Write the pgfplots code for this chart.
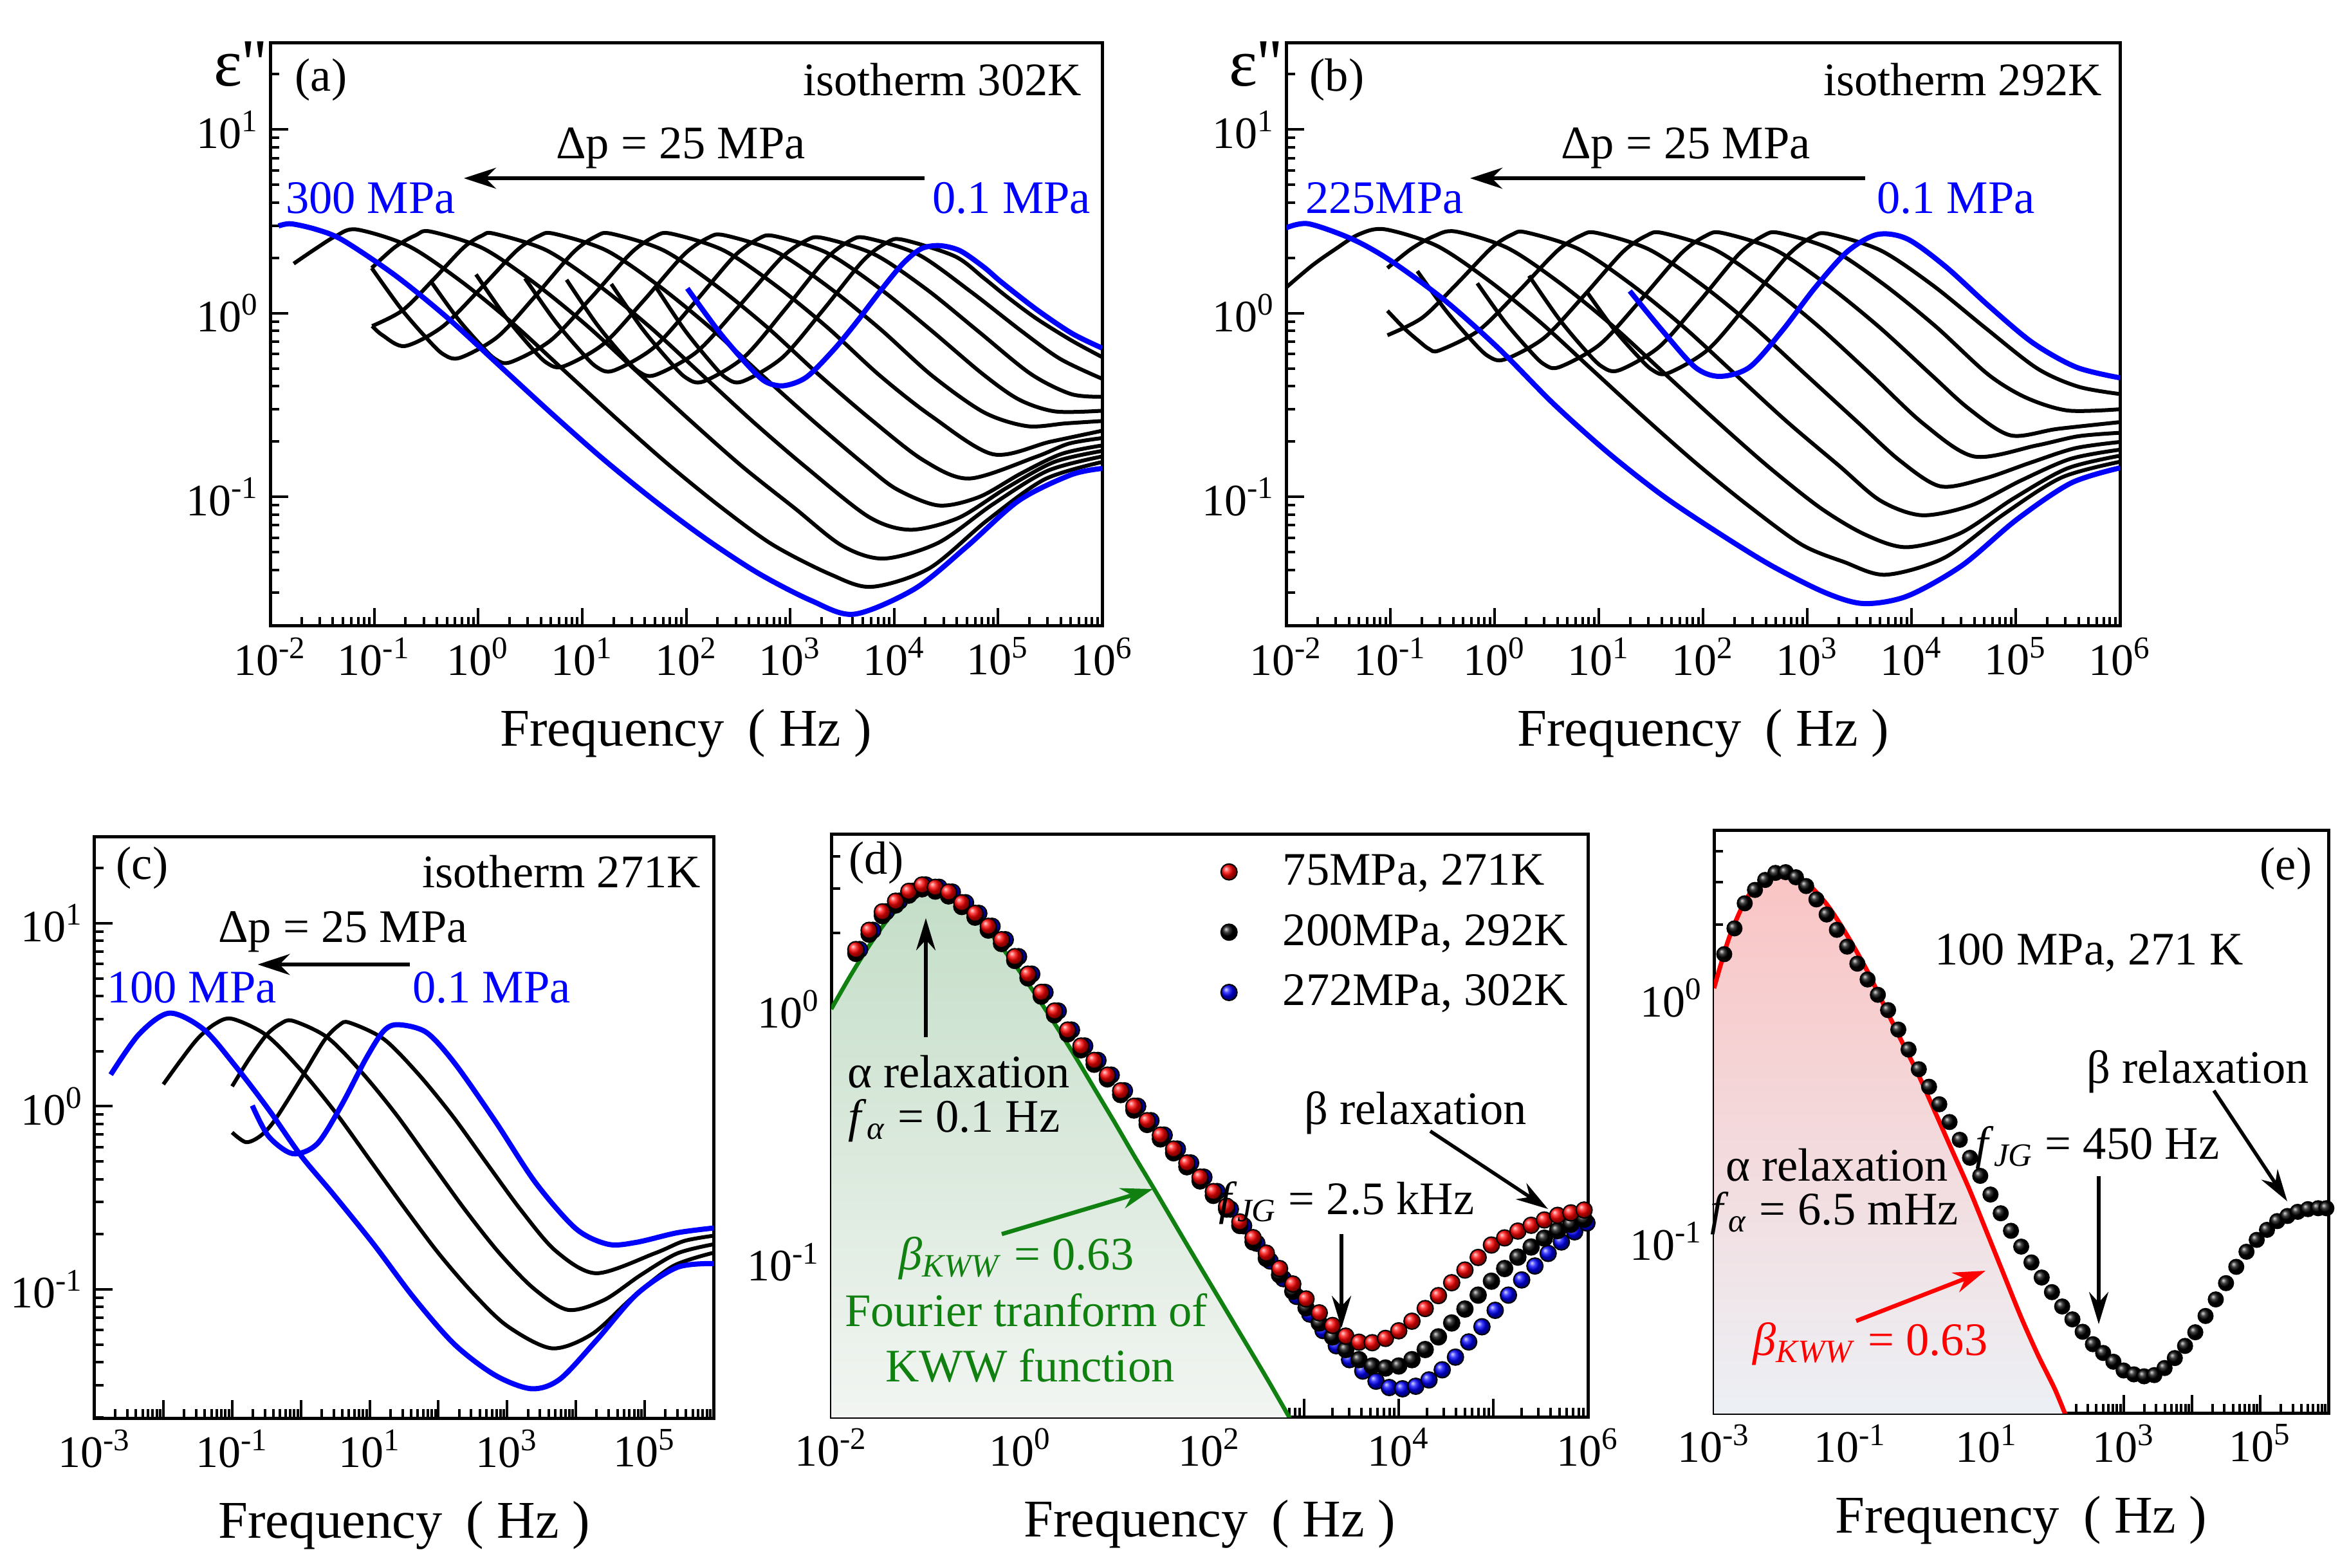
\documentclass[border=0pt]{standalone}
\usepackage{fontspec}
\setmainfont{Liberation Serif}
\usepackage{pgfplots}
\pgfplotsset{compat=1.18}
\usepackage{pgfplotstable}
\usetikzlibrary{arrows.meta}
\definecolor{kgreen}{RGB}{16,128,16}
\newcommand\fA{\fontsize{14.5}{17}\selectfont}
\newcommand\fE{\fontsize{21}{24}\selectfont}
\newcommand\tp[1]{10\textsuperscript{#1}}
\newcommand\AX[1]{\begin{axis}[scale only axis, xmode=log, ymode=log,
    tick align=inside, tick pos=left,
    major tick length=5.6pt, minor tick length=2.8pt,
    every tick/.append style={line width=0.8pt, black},
    axis line style={line width=1pt},
    minor xtick={2e-3,3e-3,4e-3,5e-3,6e-3,7e-3,8e-3,9e-3,2e-2,3e-2,4e-2,5e-2,6e-2,7e-2,8e-2,9e-2,0.2,0.3,0.4,0.5,0.6,0.7,0.8,0.9,2,3,4,5,6,7,8,9,20,30,40,50,60,70,80,90,200,300,400,500,600,700,800,900,2e3,3e3,4e3,5e3,6e3,7e3,8e3,9e3,2e4,3e4,4e4,5e4,6e4,7e4,8e4,9e4,2e5,3e5,4e5,5e5,6e5,7e5,8e5,9e5},
    minor ytick={2e-2,3e-2,4e-2,5e-2,6e-2,7e-2,8e-2,9e-2,0.2,0.3,0.4,0.5,0.6,0.7,0.8,0.9,2,3,4,5,6,7,8,9,20},
    ticklabel style={font=\fontsize{14}{16}\selectfont},
    xlabel={Frequency\hspace{0.45em}( Hz )},
    xlabel style={font=\fontsize{16.5}{19}\selectfont, at={(axis description cs:0.5,0)}, anchor=center, yshift=-33.4pt},
    clip=true, anchor=north west, #1]}
\newcommand\LP[2]{\addplot[#1] table[row sep=\\, header=false, x expr={10^(\thisrowno{0})}, y expr={10^(\thisrowno{1})}] {#2};}
\newcommand\BK[1]{\LP{black, line width=1.2pt, smooth}{#1}}
\newcommand\BL[1]{\LP{blue, line width=1.6pt, smooth}{#1}}
\begin{document}
\pgfplotstableread[row sep=\\]{
x r k b bx\\
-1.74 0.235 0.22 0.235 -1.70\\
-1.60 0.311 0.296 0.311 -1.56\\
-1.46 0.384 0.369 0.384 -1.42\\
-1.32 0.426 0.411 0.426 -1.28\\
-1.18 0.465 0.45 0.465 -1.14\\
-1.04 0.49 0.475 0.49 -1.00\\
-0.90 0.481 0.466 0.481 -0.86\\
-0.76 0.462 0.447 0.462 -0.72\\
-0.62 0.42 0.405 0.42 -0.58\\
-0.48 0.378 0.363 0.378 -0.44\\
-0.34 0.327 0.312 0.327 -0.30\\
-0.20 0.274 0.259 0.274 -0.16\\
-0.06 0.207 0.192 0.207 -0.02\\
0.08 0.138 0.123 0.138 0.12\\
0.22 0.066 0.051 0.066 0.26\\
0.36 -0.008 -0.023 -0.008 0.40\\
0.50 -0.083 -0.098 -0.083 0.54\\
0.64 -0.146 -0.161 -0.146 0.68\\
0.78 -0.203 -0.218 -0.203 0.82\\
0.92 -0.261 -0.276 -0.261 0.96\\
1.06 -0.323 -0.338 -0.323 1.10\\
1.20 -0.384 -0.399 -0.384 1.24\\
1.34 -0.441 -0.456 -0.441 1.38\\
1.48 -0.498 -0.513 -0.498 1.52\\
1.62 -0.553 -0.568 -0.553 1.66\\
1.76 -0.608 -0.623 -0.608 1.80\\
1.90 -0.664 -0.679 -0.664 1.94\\
2.04 -0.721 -0.736 -0.721 2.08\\
2.18 -0.779 -0.79 -0.79 2.22\\
2.32 -0.841 -0.855 -0.856 2.36\\
2.46 -0.903 -0.92 -0.925 2.50\\
2.60 -0.964 -0.985 -0.995 2.64\\
2.74 -1.025 -1.05 -1.065 2.78\\
2.88 -1.086 -1.115 -1.135 2.92\\
3.02 -1.145 -1.18 -1.205 3.06\\
3.16 -1.2 -1.24 -1.27 3.20\\
3.30 -1.25 -1.295 -1.33 3.34\\
3.44 -1.292 -1.345 -1.385 3.48\\
3.58 -1.316 -1.385 -1.43 3.62\\
3.72 -1.318 -1.41 -1.47 3.76\\
3.86 -1.301 -1.418 -1.495 3.90\\
4.00 -1.271 -1.41 -1.5 4.04\\
4.14 -1.233 -1.385 -1.49 4.18\\
4.28 -1.183 -1.345 -1.465 4.32\\
4.42 -1.132 -1.295 -1.425 4.46\\
4.56 -1.081 -1.24 -1.375 4.60\\
4.70 -1.031 -1.185 -1.315 4.74\\
4.84 -0.981 -1.13 -1.255 4.88\\
4.98 -0.932 -1.075 -1.19 5.02\\
5.12 -0.904 -1.025 -1.13 5.16\\
5.26 -0.877 -0.98 -1.07 5.30\\
5.40 -0.854 -0.94 -1.015 5.44\\
5.54 -0.833 -0.905 -0.965 5.58\\
5.68 -0.815 -0.875 -0.92 5.72\\
5.82 -0.805 -0.85 -0.88 5.86\\
5.96 -0.794 -0.83 -0.845 5.99\\
}\tabD
\pgfplotstableread[row sep=\\]{
x y\\
-2.85 0.18\\ -2.70 0.286\\ -2.55 0.389\\ -2.40 0.444\\ -2.25 0.485\\ -2.10 0.514\\
-1.95 0.517\\ -1.80 0.496\\ -1.65 0.46\\ -1.50 0.405\\ -1.35 0.343\\ -1.20 0.28\\
-1.05 0.211\\ -0.90 0.141\\ -0.75 0.076\\ -0.60 0.013\\ -0.45 -0.05\\ -0.30 -0.13\\
-0.15 -0.212\\ 0.00 -0.293\\ 0.15 -0.365\\ 0.30 -0.437\\ 0.45 -0.51\\ 0.60 -0.583\\
0.75 -0.657\\ 0.90 -0.731\\ 1.05 -0.808\\ 1.20 -0.885\\ 1.35 -0.957\\ 1.50 -1.022\\
1.65 -1.087\\ 1.80 -1.149\\ 1.95 -1.209\\ 2.10 -1.268\\ 2.25 -1.321\\ 2.40 -1.372\\
2.55 -1.423\\ 2.70 -1.459\\ 2.85 -1.495\\ 3.00 -1.531\\ 3.15 -1.547\\ 3.30 -1.555\\
3.45 -1.55\\ 3.60 -1.521\\ 3.75 -1.48\\ 3.90 -1.43\\ 4.05 -1.374\\ 4.20 -1.307\\
4.35 -1.239\\ 4.50 -1.172\\ 4.65 -1.105\\ 4.80 -1.043\\ 4.95 -0.994\\ 5.10 -0.953\\
5.25 -0.917\\ 5.40 -0.896\\ 5.55 -0.879\\ 5.70 -0.868\\ 5.85 -0.864\\ 5.97 -0.864\\
}\tabE
\begin{tikzpicture}
\useasboundingbox (0,0) rectangle (730.2pt,-487.2pt);
% ---------------- (a) ----------------
\AX{at={(84pt,-13.2pt)}, width=258.6pt, height=181.4pt,
  xmin=1e-2, xmax=1e6, ymin=0.0198, ymax=29.8,
  xtick={1e-2,1e-1,1,10,100,1e3,1e4,1e5,1e6},
  xticklabels={\tp{-2},\tp{-1},\tp{0},\tp{1},\tp{2},\tp{3},\tp{4},\tp{5},\tp{6}},
  ytick={0.1,1,10}, yticklabels={\tp{-1},\tp{0},\tp{1}}}
\BK{-1.774 0.27\\ -1.564 0.351\\ -1.366 0.421\\ -1.17 0.456\\ -0.67 0.366\\ -0.17 0.176\\ 0.33 -0.054\\ 0.83 -0.314\\ 1.33 -0.574\\ 1.83 -0.824\\ 2.33 -1.054\\ 2.83 -1.26\\ 3.38 -1.42\\ 3.78 -1.49\\ 4.335 -1.39\\ 4.89 -1.13\\ 5.445 -0.905\\ 6.0 -0.81\\}
\BK{-1.024 0.246\\ -0.8 0.36\\ -0.6 0.425\\ -0.46 0.445\\ 0.04 0.355\\ 0.54 0.165\\ 1.04 -0.065\\ 1.54 -0.325\\ 2.04 -0.585\\ 2.54 -0.835\\ 3.04 -1.06\\ 3.5 -1.266\\ 3.9 -1.336\\ 4.425 -1.25\\ 4.95 -1.04\\ 5.475 -0.858\\ 6.0 -0.78\\}
\BK{-1.02 -0.07\\ -0.726 0.016\\ -0.433 0.182\\ -0.139 0.358\\ 0.038 0.423\\ 0.155 0.433\\ 0.655 0.343\\ 1.155 0.153\\ 1.655 -0.077\\ 2.155 -0.337\\ 2.655 -0.597\\ 3.155 -0.84\\ 3.756 -1.109\\ 4.156 -1.179\\ 4.617 -1.115\\ 5.078 -0.952\\ 5.539 -0.81\\ 6.0 -0.75\\}
\BK{-1.02 -0.07\\ -0.92 -0.12\\ -0.705 -0.179\\ -0.347 -0.075\\ 0.011 0.127\\ 0.37 0.341\\ 0.585 0.421\\ 0.728 0.433\\ 1.228 0.343\\ 1.728 0.153\\ 2.228 -0.077\\ 2.728 -0.337\\ 3.228 -0.59\\ 3.728 -0.83\\ 4.03 -0.96\\ 4.43 -1.047\\ 4.82 -1.0\\ 5.215 -0.874\\ 5.61 -0.766\\ 6.0 -0.72\\}
\BK{-1.024 0.246\\ -0.744 0.026\\ -0.498 -0.135\\ -0.337 -0.223\\ -0.176 -0.243\\ 0.188 -0.128\\ 0.552 0.095\\ 0.916 0.332\\ 1.134 0.419\\ 1.28 0.433\\ 1.78 0.343\\ 2.28 0.153\\ 2.78 -0.077\\ 3.28 -0.337\\ 3.78 -0.58\\ 4.28 -0.8\\ 4.72 -0.9\\ 5.36 -0.783\\ 5.68 -0.71\\ 6.0 -0.68\\}
\BK{-0.451 0.17\\ -0.2 -0.027\\ 0.021 -0.171\\ 0.165 -0.25\\ 0.31 -0.267\\ 0.697 -0.148\\ 1.084 0.083\\ 1.47 0.328\\ 1.702 0.419\\ 1.857 0.433\\ 2.357 0.343\\ 2.857 0.153\\ 3.357 -0.077\\ 3.857 -0.337\\ 4.357 -0.56\\ 4.95 -0.768\\ 5.5 -0.70\\ 6.0 -0.64\\}
\BK{-0.021 0.211\\ 0.256 -0.014\\ 0.499 -0.18\\ 0.658 -0.27\\ 0.817 -0.29\\ 1.204 -0.168\\ 1.59 0.068\\ 1.977 0.318\\ 2.209 0.41\\ 2.364 0.425\\ 2.864 0.335\\ 3.364 0.145\\ 3.864 -0.085\\ 4.364 -0.34\\ 4.864 -0.54\\ 5.28 -0.615\\ 5.65 -0.60\\ 6.0 -0.587\\}
\BK{0.45 0.19\\ 0.73 -0.036\\ 0.977 -0.202\\ 1.139 -0.293\\ 1.3 -0.313\\ 1.687 -0.188\\ 2.075 0.054\\ 2.462 0.31\\ 2.694 0.405\\ 2.849 0.42\\ 3.349 0.33\\ 3.849 0.14\\ 4.349 -0.09\\ 4.849 -0.33\\ 5.2 -0.47\\ 5.55 -0.535\\ 6.0 -0.531\\}
\BK{0.85 0.182\\ 1.13 -0.052\\ 1.377 -0.223\\ 1.539 -0.316\\ 1.7 -0.337\\ 2.103 -0.21\\ 2.506 0.037\\ 2.909 0.298\\ 3.151 0.395\\ 3.312 0.41\\ 3.812 0.32\\ 4.312 0.13\\ 4.812 -0.1\\ 5.312 -0.33\\ 5.7 -0.44\\ 6.0 -0.455\\}
\BK{1.28 0.159\\ 1.572 -0.08\\ 1.829 -0.255\\ 1.997 -0.351\\ 2.165 -0.372\\ 2.557 -0.239\\ 2.948 0.019\\ 3.34 0.293\\ 3.574 0.394\\ 3.731 0.41\\ 4.231 0.32\\ 4.731 0.12\\ 5.231 -0.1\\ 5.6 -0.25\\ 6.0 -0.357\\}
\BK{1.7 0.15\\ 1.977 -0.085\\ 2.221 -0.257\\ 2.38 -0.351\\ 2.54 -0.372\\ 2.926 -0.241\\ 3.312 0.014\\ 3.698 0.284\\ 3.93 0.385\\ 4.084 0.40\\ 4.584 0.31\\ 4.865 0.19\\ 5.084 0.09\\ 5.37 -0.03\\ 5.71 -0.15\\ 6.0 -0.239\\}
\BL{-1.92 0.475\\ -1.8 0.487\\ -1.55 0.455\\ -1.3 0.397\\ -0.8 0.207\\ -0.3 -0.023\\ 0.2 -0.283\\ 0.7 -0.543\\ 1.2 -0.793\\ 1.7 -1.023\\ 2.2 -1.233\\ 2.7 -1.418\\ 3.2 -1.564\\ 3.615 -1.639\\ 4.2 -1.50\\ 4.7 -1.27\\ 5.2 -1.02\\ 5.7 -0.88\\ 6.0 -0.845\\}
\BL{2.011 0.135\\ 2.32 -0.104\\ 2.584 -0.278\\ 2.76 -0.372\\ 2.937 -0.395\\ 3.157 -0.348\\ 3.422 -0.197\\ 3.643 -0.045\\ 3.863 0.118\\ 4.084 0.27\\ 4.26 0.351\\ 4.436 0.368\\ 4.635 0.34\\ 4.865 0.25\\ 5.03 0.17\\ 5.37 0.02\\ 5.71 -0.11\\ 6.0 -0.19\\}
\end{axis}
% ---------------- (b) ----------------
\AX{at={(399.8pt,-13.2pt)}, width=259.2pt, height=181.4pt,
  xmin=1e-2, xmax=1e6, ymin=0.0198, ymax=29.8,
  xtick={1e-2,1e-1,1,10,100,1e3,1e4,1e5,1e6},
  xticklabels={\tp{-2},\tp{-1},\tp{0},\tp{1},\tp{2},\tp{3},\tp{4},\tp{5},\tp{6}},
  ytick={0.1,1,10}, yticklabels={\tp{-1},\tp{0},\tp{1}}}
\BK{-2.0 0.14\\ -1.75 0.26\\ -1.525 0.35\\ -1.3 0.43\\ -1.054 0.457\\ -0.554 0.367\\ -0.054 0.177\\ 0.446 -0.053\\ 0.946 -0.313\\ 1.446 -0.573\\ 1.946 -0.823\\ 2.446 -1.053\\ 2.946 -1.26\\ 3.35 -1.354\\ 3.75 -1.424\\ 4.314 -1.332\\ 4.876 -1.098\\ 5.438 -0.895\\ 6.0 -0.809\\}
\BK{-1.028 0.246\\ -0.8 0.35\\ -0.58 0.42\\ -0.375 0.445\\ 0.125 0.355\\ 0.625 0.165\\ 1.125 -0.065\\ 1.625 -0.325\\ 2.125 -0.585\\ 2.625 -0.835\\ 3.125 -1.06\\ 3.55 -1.204\\ 3.95 -1.274\\ 4.46 -1.2\\ 4.975 -1.01\\ 5.49 -0.846\\ 6.0 -0.776\\}
\BK{-1.028 -0.12\\ -0.695 -0.025\\ -0.362 0.16\\ -0.029 0.356\\ 0.17 0.429\\ 0.304 0.44\\ 0.804 0.35\\ 1.304 0.16\\ 1.804 -0.07\\ 2.304 -0.33\\ 2.804 -0.59\\ 3.304 -0.83\\ 3.7 -1.02\\ 4.1 -1.1\\ 4.575 -1.046\\ 5.05 -0.911\\ 5.525 -0.793\\ 6.0 -0.743\\}
\BK{-1.028 0.013\\ -0.864 -0.084\\ -0.72 -0.155\\ -0.63 -0.194\\ -0.532 -0.203\\ -0.153 -0.094\\ 0.226 0.117\\ 0.604 0.341\\ 0.832 0.424\\ 0.983 0.437\\ 1.483 0.347\\ 1.983 0.157\\ 2.483 -0.073\\ 2.983 -0.333\\ 3.483 -0.593\\ 3.883 -0.8\\ 4.275 -0.942\\ 4.7 -0.9\\ 5.14 -0.814\\ 5.57 -0.735\\ 6.0 -0.701\\}
\BK{-0.741 0.229\\ -0.465 0.013\\ -0.223 -0.146\\ -0.064 -0.233\\ 0.095 -0.252\\ 0.474 -0.135\\ 0.853 0.093\\ 1.231 0.334\\ 1.459 0.423\\ 1.61 0.437\\ 2.11 0.347\\ 2.61 0.157\\ 3.11 -0.073\\ 3.61 -0.333\\ 4.11 -0.6\\ 4.6 -0.78\\ 5.2 -0.72\\ 5.6 -0.67\\ 6.0 -0.651\\}
\BK{-0.166 0.163\\ 0.093 -0.043\\ 0.32 -0.193\\ 0.469 -0.276\\ 0.618 -0.294\\ 1.01 -0.17\\ 1.402 0.072\\ 1.793 0.327\\ 2.028 0.422\\ 2.185 0.437\\ 2.685 0.347\\ 3.185 0.157\\ 3.685 -0.073\\ 4.185 -0.333\\ 4.55 -0.52\\ 4.95 -0.665\\ 5.4 -0.63\\ 6.0 -0.593\\}
\BK{0.33 0.204\\ 0.614 -0.028\\ 0.864 -0.198\\ 1.028 -0.29\\ 1.192 -0.311\\ 1.578 -0.184\\ 1.963 0.063\\ 2.349 0.325\\ 2.58 0.422\\ 2.734 0.437\\ 3.234 0.347\\ 3.734 0.157\\ 4.234 -0.073\\ 4.734 -0.333\\ 5.1 -0.46\\ 5.5 -0.53\\ 6.0 -0.523\\}
\BK{0.879 0.121\\ 1.137 -0.081\\ 1.364 -0.228\\ 1.513 -0.309\\ 1.662 -0.327\\ 2.048 -0.198\\ 2.433 0.053\\ 2.819 0.318\\ 3.05 0.417\\ 3.204 0.432\\ 3.704 0.342\\ 4.204 0.152\\ 4.704 -0.078\\ 5.204 -0.3\\ 5.6 -0.4\\ 6.0 -0.44\\}
\BL{-2.0 0.465\\ -1.786 0.487\\ -1.368 0.404\\ -1.0 0.287\\ -0.48 0.071\\ 0.043 -0.194\\ 0.565 -0.493\\ 1.088 -0.759\\ 1.61 -0.992\\ 2.133 -1.191\\ 2.655 -1.374\\ 3.178 -1.523\\ 3.543 -1.581\\ 3.961 -1.54\\ 4.484 -1.374\\ 5.006 -1.125\\ 5.529 -0.925\\ 6.0 -0.842\\}
\BL{1.297 0.121\\ 1.61 -0.095\\ 1.924 -0.294\\ 2.159 -0.344\\ 2.446 -0.294\\ 2.76 -0.095\\ 3.073 0.138\\ 3.387 0.337\\ 3.674 0.429\\ 3.961 0.404\\ 4.327 0.254\\ 4.745 0.038\\ 5.163 -0.161\\ 5.581 -0.294\\ 6.0 -0.352\\}
\end{axis}
% ---------------- (c) ----------------
\AX{at={(29.4pt,-260pt)}, width=192.4pt, height=180.8pt,
  xmin=1e-3, xmax=1e6, ymin=0.0198, ymax=29.8,
  xtick={1e-3,1e-2,1e-1,1,10,100,1e3,1e4,1e5,1e6},
  xticklabels={\tp{-3},,\tp{-1},,\tp{1},,\tp{3},,\tp{5},},
  ytick={0.1,1,10}, yticklabels={\tp{-1},\tp{0},\tp{1}}}
\BK{-2.0 0.12\\ -1.75 0.25\\ -1.5 0.37\\ -1.25 0.45\\ -1.0 0.478\\ -0.5 0.388\\ 0.0 0.198\\ 0.5 -0.032\\ 1.0 -0.292\\ 1.5 -0.552\\ 2.0 -0.802\\ 2.5 -1.02\\ 3.0 -1.2\\ 3.647 -1.322\\ 4.235 -1.244\\ 4.82 -1.045\\ 5.41 -0.873\\ 6.0 -0.80\\}
\BK{-1.0 0.109\\ -0.75 0.26\\ -0.5 0.39\\ -0.3 0.45\\ -0.118 0.467\\ 0.382 0.377\\ 0.882 0.187\\ 1.382 -0.043\\ 1.882 -0.303\\ 2.382 -0.563\\ 2.882 -0.8\\ 3.382 -0.994\\ 3.882 -1.112\\ 4.41 -1.058\\ 4.94 -0.922\\ 5.47 -0.804\\ 6.0 -0.754\\}
\BK{-1.0 -0.143\\ -0.8 -0.196\\ -0.6 -0.165\\ -0.397 -0.085\\ -0.03 0.131\\ 0.338 0.359\\ 0.559 0.444\\ 0.706 0.457\\ 1.206 0.367\\ 1.706 0.177\\ 2.206 -0.053\\ 2.706 -0.313\\ 3.206 -0.57\\ 3.706 -0.79\\ 4.294 -0.912\\ 5.147 -0.803\\ 5.57 -0.736\\ 6.0 -0.707\\}
\BL{-2.765 0.173\\ -2.353 0.394\\ -1.912 0.509\\ -1.412 0.42\\ -0.941 0.215\\ -0.47 -0.017\\ 0.0 -0.269\\ 0.47 -0.48\\ 1.059 -0.754\\ 1.647 -1.048\\ 2.235 -1.301\\ 2.824 -1.469\\ 3.353 -1.543\\ 3.765 -1.491\\ 4.294 -1.28\\ 4.882 -1.027\\ 5.471 -0.88\\ 6.0 -0.859\\}
\BL{-0.706 0.004\\ -0.47 -0.164\\ -0.118 -0.259\\ 0.235 -0.206\\ 0.588 0.004\\ 0.941 0.257\\ 1.2 0.41\\ 1.412 0.446\\ 1.824 0.404\\ 2.235 0.236\\ 2.824 -0.08\\ 3.412 -0.417\\ 4.0 -0.669\\ 4.47 -0.754\\ 4.882 -0.743\\ 5.471 -0.691\\ 6.0 -0.665\\}
\end{axis}
% ---------------- (d) ----------------
\AX{at={(258.4pt,-259.2pt)}, width=235.2pt, height=181.2pt,
  xmin=1e-2, xmax=1e6, ymin=0.0245, ymax=4.92,
  xtick={1e-2,1e-1,1,10,100,1e3,1e4,1e5,1e6},
  xticklabels={\tp{-2},,\tp{0},,\tp{2},,\tp{4},,\tp{6}},
  ytick={0.1,1}, yticklabels={\tp{-1},\tp{0}},
  reverse legend, legend cell align=left,
  legend image code/.code={\draw[#1] plot coordinates {(0pt,0pt)}; \path (-3pt,0pt) (14.5pt,0pt);},
  legend style={at={(axis description cs:0.507,0.983)}, anchor=north west, draw=none, fill=none, font=\fA, row sep=3.6pt, inner sep=1pt}}
\addplot[draw=none, top color={rgb,255:red,196;green,222;blue,200}, bottom color={rgb,255:red,242;green,245;blue,242}, forget plot] table[row sep=\\, header=false, x expr={10^(\thisrowno{0})}, y expr={10^(\thisrowno{1})}] {-2.0 0.0\\ -1.8 0.13\\ -1.6 0.25\\ -1.4 0.355\\ -1.2 0.43\\ -1.0 0.462\\ -0.8 0.45\\ -0.6 0.405\\ -0.4 0.335\\ -0.2 0.245\\ 0.0 0.145\\ 0.2 0.035\\ 0.4 -0.08\\ 0.6 -0.2\\ 0.8 -0.325\\ 1.0 -0.45\\ 1.2 -0.578\\ 1.405 -0.705\\ 1.8 -0.955\\ 2.2 -1.205\\ 2.6 -1.455\\ 2.843 -1.62\\ -2.0 -1.62\\} -- cycle;
\LP{kgreen, line width=1.3pt, smooth, forget plot}{-2.0 0.0\\ -1.8 0.13\\ -1.6 0.25\\ -1.4 0.355\\ -1.2 0.43\\ -1.0 0.462\\ -0.8 0.45\\ -0.6 0.405\\ -0.4 0.335\\ -0.2 0.245\\ 0.0 0.145\\ 0.2 0.035\\ 0.4 -0.08\\ 0.6 -0.2\\ 0.8 -0.325\\ 1.0 -0.45\\ 1.2 -0.578\\ 1.405 -0.705\\ 1.8 -0.955\\ 2.2 -1.205\\ 2.6 -1.455\\ 2.9 -1.65\\}
\addplot[only marks, mark=ball, mark size=2.5pt, ball color=blue] table[x expr={10^(\thisrow{bx})}, y expr={10^(\thisrow{b})}] {\tabD};
\addlegendentry{272MPa, 302K}
\addplot[only marks, mark=ball, mark size=2.5pt, ball color=black] table[x expr={10^(\thisrow{x})}, y expr={10^(\thisrow{k})}] {\tabD};
\addlegendentry{200MPa, 292K}
\addplot[only marks, mark=ball, mark size=2.5pt, ball color=red] table[x expr={10^(\thisrow{x})}, y expr={10^(\thisrow{r})}] {\tabD};
\addlegendentry{75MPa, 271K}
\end{axis}
% ---------------- (e) ----------------
\AX{at={(532.8pt,-258pt)}, width=191pt, height=181.2pt,
  xmin=1e-3, xmax=1e6, ymin=0.0197, ymax=4.9,
  xtick={1e-3,1e-2,1e-1,1,10,100,1e3,1e4,1e5,1e6},
  xticklabels={\tp{-3},,\tp{-1},,\tp{1},,\tp{3},,\tp{5},},
  ytick={0.1,1}, yticklabels={\tp{-1},\tp{0}}}
\addplot[draw=none, top color={rgb,255:red,250;green,196;blue,196}, bottom color={rgb,255:red,236;green,240;blue,245}, forget plot] table[row sep=\\, header=false, x expr={10^(\thisrowno{0})}, y expr={10^(\thisrowno{1})}] {-3.0 0.04\\ -2.78 0.246\\ -2.53 0.405\\ -2.28 0.484\\ -1.985 0.508\\ -1.69 0.484\\ -1.36 0.389\\ -1.06 0.262\\ -0.77 0.119\\ -0.52 -0.024\\ -0.27 -0.167\\ -0.015 -0.31\\ 0.237 -0.468\\ 0.488 -0.627\\ 0.74 -0.786\\ 0.992 -0.96\\ 1.243 -1.135\\ 1.495 -1.31\\ 1.746 -1.468\\ 1.998 -1.611\\ 2.15 -1.72\\ -3.0 -1.72\\} -- cycle;
\LP{red, line width=1.4pt, smooth, forget plot}{-3.0 0.04\\ -2.78 0.246\\ -2.53 0.405\\ -2.28 0.484\\ -1.985 0.508\\ -1.69 0.484\\ -1.36 0.389\\ -1.06 0.262\\ -0.77 0.119\\ -0.52 -0.024\\ -0.27 -0.167\\ -0.015 -0.31\\ 0.237 -0.468\\ 0.488 -0.627\\ 0.74 -0.786\\ 0.992 -0.96\\ 1.243 -1.135\\ 1.495 -1.31\\ 1.746 -1.468\\ 1.998 -1.611\\ 2.2 -1.75\\}
\addplot[only marks, mark=ball, mark size=2.3pt, ball color=black] table[x expr={10^(\thisrow{x})}, y expr={10^(\thisrow{y})}] {\tabE};
\end{axis}
% ---------------- annotations ----------------
\node[anchor=west, font=\fE] at (63pt,-20pt) {ε\textquotesingle\textquotesingle};
\node[anchor=west, font=\fE] at (378.6pt,-20pt) {ε\textquotesingle\textquotesingle};
\begin{scope}[font=\fA, inner sep=0pt]
\node at (99.8pt,-24.8pt) {(a)};
\node[anchor=east] at (336.4pt,-24.8pt) {isotherm 302K};
\node at (211.6pt,-46pt) {Δp = 25 MPa};
\draw[line width=1.2pt, -{Stealth[length=10pt,width=6.5pt]}] (287.4pt,-55.4pt) -- (144.2pt,-55.4pt);
\node[anchor=west, text=blue] at (88.6pt,-61.5pt) {300 MPa};
\node[anchor=east, text=blue] at (339.2pt,-61.5pt) {0.1 MPa};
\node at (415.6pt,-24.8pt) {(b)};
\node[anchor=east] at (653.6pt,-24.8pt) {isotherm 292K};
\node at (524pt,-46pt) {Δp = 25 MPa};
\draw[line width=1.2pt, -{Stealth[length=10pt,width=6.5pt]}] (579.8pt,-55.4pt) -- (457pt,-55.4pt);
\node[anchor=west, text=blue] at (405.6pt,-61.5pt) {225MPa};
\node[anchor=west, text=blue] at (583.2pt,-61.5pt) {0.1 MPa};
\node at (44.2pt,-269.8pt) {(c)};
\node[anchor=east] at (218pt,-271pt) {isotherm 271K};
\node at (106.6pt,-289.6pt) {Δp = 25 MPa};
\draw[line width=1.2pt, -{Stealth[length=10pt,width=6.5pt]}] (127.4pt,-299.8pt) -- (80.1pt,-299.8pt);
\node[anchor=west, text=blue] at (33pt,-307pt) {100 MPa};
\node[anchor=west, text=blue] at (128pt,-307pt) {0.1 MPa};
\node at (272.4pt,-268.2pt) {(d)};
\node at (298pt,-333.2pt) {α relaxation};
\node at (296.6pt,-348.4pt) {\textit{f}\textsubscript{\textit{α}} = 0.1 Hz};
\draw[line width=1.1pt, -{Stealth[length=10pt,width=6pt]}] (287.8pt,-322.4pt) -- (287.8pt,-285.4pt);
\node at (440pt,-346pt) {β relaxation};
\draw[line width=1.1pt, -{Stealth[length=10pt,width=6pt]}] (444.6pt,-351.6pt) -- (481.2pt,-375.8pt);
\node at (418.6pt,-374pt) {\textit{f}\textsubscript{\textit{JG}} = 2.5 kHz};
\draw[line width=1.1pt, -{Stealth[length=10pt,width=6pt]}] (417pt,-383.6pt) -- (417pt,-412.8pt);
\draw[kgreen, line width=1.3pt, -{Stealth[length=10pt,width=6.5pt]}] (311.4pt,-383.6pt) -- (358.4pt,-369.6pt);
\node[text=kgreen] at (316pt,-391.2pt) {\textit{β}\textsubscript{\textit{KWW}} = 0.63};
\node[text=kgreen] at (319pt,-407.2pt) {Fourier tranform of};
\node[text=kgreen] at (320.2pt,-424.4pt) {KWW function};
\node at (710.6pt,-270pt) {(e)};
\node at (649.4pt,-296.2pt) {100 MPa, 271 K};
\node at (683.2pt,-333.2pt) {β relaxation};
\draw[line width=1.1pt, -{Stealth[length=10pt,width=6pt]}] (688.2pt,-339pt) -- (711pt,-373.4pt);
\node at (652pt,-356.8pt) {\textit{f}\textsubscript{\textit{JG}} = 450 Hz};
\draw[line width=1.1pt, -{Stealth[length=10pt,width=6pt]}] (652.4pt,-365.6pt) -- (652.4pt,-411.6pt);
\node at (571pt,-362.2pt) {α relaxation};
\node at (570.2pt,-377.1pt) {\textit{f}\textsubscript{\textit{α}} = 6.5 mHz};
\draw[red, line width=1.3pt, -{Stealth[length=10pt,width=6.5pt]}] (577pt,-410.6pt) -- (617.2pt,-395pt);
\node[text=red] at (581.4pt,-417.8pt) {\textit{β}\textsubscript{\textit{KWW}} = 0.63};
\end{scope}
\end{tikzpicture}
\end{document}
